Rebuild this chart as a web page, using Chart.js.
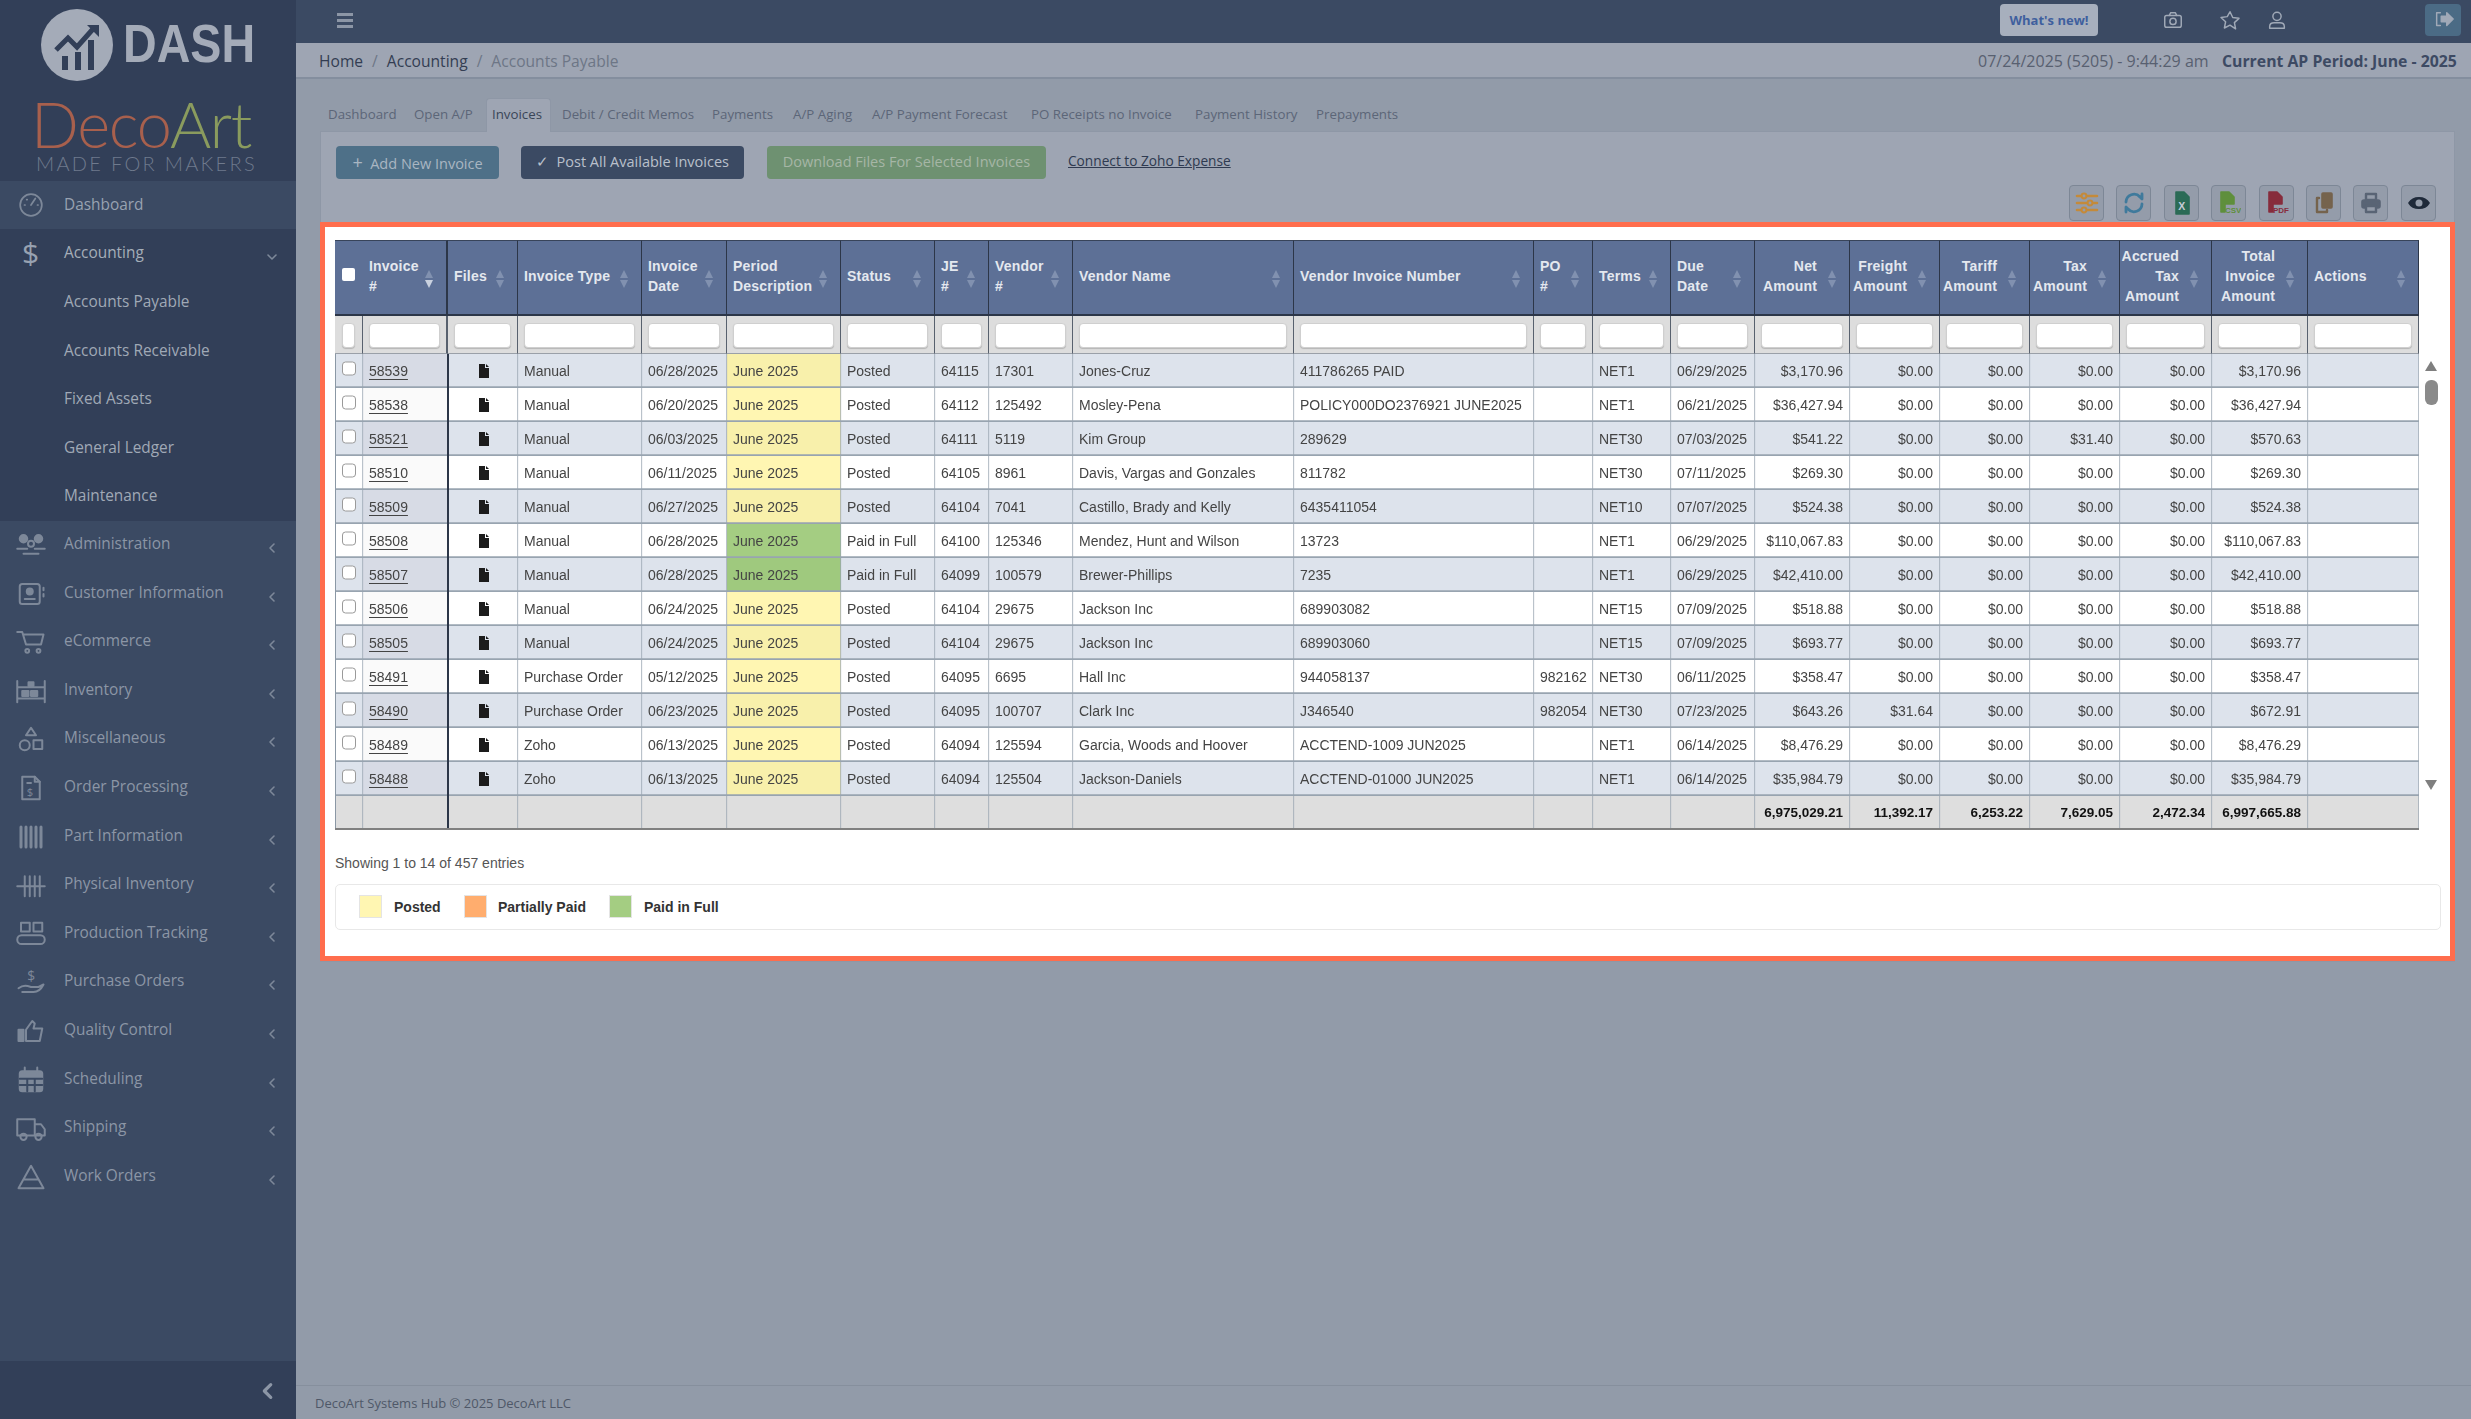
<!DOCTYPE html>
<html>
<head>
<meta charset="utf-8">
<title>Accounts Payable</title>
<script src="https://cdn.jsdelivr.net/npm/chart.js@4/dist/chart.umd.min.js"></script>
<style>
  html, body { margin: 0; padding: 0; width: 2471px; height: 1419px; overflow: hidden; background: #929ba9; font-family: "Open Sans", sans-serif; }
  .abs, .abs * { box-sizing: border-box; }
  .abs { position: absolute; white-space: nowrap; }
  .side { color: #98a2b1; font-size: 15.4px; line-height: 24px; }
  .tab { color: #5c6678; font-size: 13.3px; top: 104px; line-height: 20px; }
  .btn { top: 146px; height: 33px; border-radius: 4px; font-size: 14.5px; line-height: 32px; text-align: center; }
  .tool { top: 185px; width: 35px; height: 36px; border: 1px solid #7d8796; border-radius: 4px; background: #949caa; }
  .tool svg { position: absolute; left: 5px; top: 5px; }
  .th { top: 240px; height: 76px; background: #5d7096; border-right: 1px solid #2c3648; border-top: 1px solid #38445a; border-bottom: 2px solid #2c3648; color: #e4e8ef; font: bold 14px/20px "Liberation Sans", sans-serif; letter-spacing: .2px; display: flex; align-items: center; padding: 0 32px 3px 6px; }
  .th.num { justify-content: flex-end; text-align: right; }
  .up, .down { position: absolute; right: 13px; width: 0; height: 0; border-left: 4.5px solid transparent; border-right: 4.5px solid transparent; }
  .up { top: 29px; border-bottom: 8px solid #8191b0; }
  .down { top: 39px; border-top: 8px solid #8191b0; }
  .fl { top: 316px; height: 38px; background: #dddddd; border-right: 1px solid #58616e; border-bottom: 1px solid #9aa0a8; }
  .fl div { position: absolute; left: 6px; right: 6px; top: 7px; height: 25px; background: #fff; border: 1px solid #cfcfcf; border-radius: 4px; box-shadow: 0 1px 1px #b5b5b5; }
  .lg { top: 896px; font: bold 14px/22px "Liberation Sans", sans-serif; color: #333; }
  .sw { top: 895px; width: 23px; height: 23px; border: 1px solid #e4e4e4; }
</style>
</head>
<body>
<div id="page"></div>
<canvas id="invoiceTable" class="abs" style="left:335px;top:354px"></canvas>
<script>
// ---- table content ----
const invoiceNos = ['58539','58538','58521','58510','58509','58508','58507','58506','58505','58491','58490','58489','58488'];
const invoiceTypes = ['Manual','Manual','Manual','Manual','Manual','Manual','Manual','Manual','Manual','Purchase Order','Purchase Order','Zoho','Zoho'];
const invoiceDates = ['06/28/2025','06/20/2025','06/03/2025','06/11/2025','06/27/2025','06/28/2025','06/28/2025','06/24/2025','06/24/2025','05/12/2025','06/23/2025','06/13/2025','06/13/2025'];
const periods = ['June 2025','June 2025','June 2025','June 2025','June 2025','June 2025','June 2025','June 2025','June 2025','June 2025','June 2025','June 2025','June 2025'];
const statuses = ['Posted','Posted','Posted','Posted','Posted','Paid in Full','Paid in Full','Posted','Posted','Posted','Posted','Posted','Posted'];
const jeNos = ['64115','64112','64111','64105','64104','64100','64099','64104','64104','64095','64095','64094','64094'];
const vendorNos = ['17301','125492','5119','8961','7041','125346','100579','29675','29675','6695','100707','125594','125504'];
const vendorNames = ['Jones-Cruz','Mosley-Pena','Kim Group','Davis, Vargas and Gonzales','Castillo, Brady and Kelly','Mendez, Hunt and Wilson','Brewer-Phillips','Jackson Inc','Jackson Inc','Hall Inc','Clark Inc','Garcia, Woods and Hoover','Jackson-Daniels'];
const vendorInvoiceNos = ['411786265 PAID','POLICY000DO2376921 JUNE2025','289629','811782','6435411054','13723','7235','689903082','689903060','944058137','J346540','ACCTEND-1009 JUN2025','ACCTEND-01000 JUN2025'];
const poNos = ['','','','','','','','','','982162','982054','',''];
const terms = ['NET1','NET1','NET30','NET30','NET10','NET1','NET1','NET15','NET15','NET30','NET30','NET1','NET1'];
const dueDates = ['06/29/2025','06/21/2025','07/03/2025','07/11/2025','07/07/2025','06/29/2025','06/29/2025','07/09/2025','07/09/2025','06/11/2025','07/23/2025','06/14/2025','06/14/2025'];
const netAmounts = [3170.96,36427.94,541.22,269.30,524.38,110067.83,42410.00,518.88,693.77,358.47,643.26,8476.29,35984.79];
const freightAmounts = [0,0,0,0,0,0,0,0,0,0,31.64,0,0];
const tariffAmounts = [0,0,0,0,0,0,0,0,0,0,0,0,0];
const taxAmounts = [0,0,31.40,0,0,0,0,0,0,0,0,0,0];
const accruedTaxAmounts = [0,0,0,0,0,0,0,0,0,0,0,0,0];
const totalAmounts = [3170.96,36427.94,570.63,269.30,524.38,110067.83,42410.00,518.88,693.77,358.47,672.91,8476.29,35984.79];
const footerTotals = [6975029.21,11392.17,6253.22,7629.05,2472.34,6997665.88];

// header titles, a line feed is where the original wraps
const columnTitles = ['','Invoice\n#','Files','Invoice Type','Invoice\nDate','Period\nDescription','Status','JE\n#','Vendor\n#','Vendor Name','Vendor Invoice Number','PO\n#','Terms','Due\nDate','Net\nAmount','Freight\nAmount','Tariff\nAmount','Tax\nAmount','Accrued\nTax\nAmount','Total\nInvoice\nAmount','Actions'];
const numericColumns = [14,15,16,17,18,19];
const legendLabels = ['Posted','Partially Paid','Paid in Full'];
const legendColors = ['#fff6b2','#ffad6e','#a4cd82'];

// column edges on the x axis (page pixels), layout only
const columnEdges = [335,363,448,518,642,727,841,935,989,1073,1294,1534,1593,1671,1755,1850,1940,2030,2120,2212,2308,2419];

const money = v => '$' + v.toLocaleString('en-US', { minimumFractionDigits: 2, maximumFractionDigits: 2 });
const plain = v => v.toLocaleString('en-US', { minimumFractionDigits: 2, maximumFractionDigits: 2 });

const columnText = {
    1: invoiceNos, 3: invoiceTypes, 4: invoiceDates, 5: periods, 6: statuses, 7: jeNos, 8: vendorNos,
    9: vendorNames, 10: vendorInvoiceNos, 11: poNos, 12: terms, 13: dueDates,
    14: netAmounts.map(money), 15: freightAmounts.map(money), 16: tariffAmounts.map(money),
    17: taxAmounts.map(money), 18: accruedTaxAmounts.map(money), 19: totalAmounts.map(money)
};

// ---- page chrome ----
const ic = (body, size = 26, color = '#7d8899', box = 24) =>
    `<svg width="${size}" height="${size}" viewBox="0 0 ${box} ${box}" fill="none" stroke="${color}" stroke-width="1.6" stroke-linecap="round" stroke-linejoin="round">${body}</svg>`;

const sideIcons = {
    Administration: '<circle cx="6" cy="7" r="3" fill="#7d8899"/><circle cx="18" cy="7" r="3" fill="#7d8899"/><circle cx="12" cy="11" r="2.4"/><path d="M1 15h8M15 15h8M6 19h12"/>',
    'Customer Information': '<rect x="3" y="4" width="16" height="16" rx="2"/><circle cx="11" cy="10" r="2.4" fill="#7d8899"/><path d="M7 16h8M22 7v2M22 12v2"/>',
    eCommerce: '<path d="M1 4h4l3 10h12l2-8H6"/><circle cx="9" cy="19" r="1.5"/><circle cx="18" cy="19" r="1.5"/>',
    Inventory: '<path d="M1 4v17M23 4v17M1 18h22M1 9h22"/><rect x="5" y="12" width="5" height="4" fill="#7d8899"/><rect x="12" y="12" width="5" height="4" fill="#7d8899"/><rect x="10" y="5" width="4" height="3" fill="#7d8899"/>',
    Miscellaneous: '<path d="M12 3l4 6H8z"/><circle cx="7" cy="17" r="4"/><rect x="14" y="13" width="7" height="7"/>',
    'Order Processing': '<path d="M5 3h10l4 4v14H5z"/><path d="M15 3v4h4M9 8h3"/><text x="8.5" y="18" font-size="9" fill="#7d8899" stroke="none">$</text>',
    'Part Information': '<path d="M4 4v16M8 4v16M12 4v16M16 4v16M20 4v16" stroke-width="2.4"/>',
    'Physical Inventory': '<path d="M1 13h22M7 5v16M11 5v16M15 5v16M19 5v16"/>',
    'Production Tracking': '<rect x="4" y="3" width="7" height="7"/><rect x="14" y="3" width="7" height="7"/><rect x="1" y="13" width="22" height="7" rx="3.5"/>',
    'Purchase Orders': '<path d="M2 17c4-3 7-2 10-1h6l4-2c-2 4-5 6-8 6H5"/><text x="9" y="11" font-size="11" fill="#7d8899" stroke="none">$</text>',
    'Quality Control': '<rect x="2" y="11" width="4" height="9" fill="#7d8899"/><path d="M8 11l5-7 2 2-1 4h7l-2 10H8z"/>',
    Scheduling: '<rect x="3" y="5" width="18" height="16" rx="2" fill="#7d8899"/><path d="M7 2v5M17 2v5"/><path d="M3 11h18M3 16h18M9 11v10M15 11v10" stroke="#3b4a63"/>',
    Shipping: '<path d="M1 5h14v13H1zM15 9h5l3 4v5h-8"/><circle cx="6" cy="19" r="2.5"/><circle cx="18" cy="19" r="2.5"/>',
    'Work Orders': '<path d="M12 3L2 21h20zM7 14h10"/>'
};
const sideRows = Object.keys(sideIcons);

const subItems = [['Accounts Payable', 302], ['Accounts Receivable', 351], ['Fixed Assets', 399], ['General Ledger', 448], ['Maintenance', 496]];
const tabs = [['Dashboard', 328], ['Open A/P', 414], ['Invoices', 492], ['Debit / Credit Memos', 562], ['Payments', 712], ['A/P Aging', 793], ['A/P Payment Forecast', 872], ['PO Receipts no Invoice', 1031], ['Payment History', 1195], ['Prepayments', 1316]];

let html = `
<div class="abs" style="left:0;top:0;width:296px;height:1419px;background:#3b4a63"></div>
<div class="abs" style="left:0;top:0;width:296px;height:181px;background:#323f58"></div>
<div class="abs" style="left:0;top:229px;width:296px;height:292px;background:#323f58"></div>
<div class="abs" style="left:0;top:1361px;width:296px;height:58px;background:#323f58"></div>

<svg class="abs" style="left:40px;top:8px" width="74" height="74" viewBox="0 0 74 74">
  <circle cx="37" cy="37" r="36" fill="#a4abb8"/>
  <path d="M16 42l12-12 9 9 16-18" fill="none" stroke="#323f58" stroke-width="5"/><path d="M47 17h12v12z" fill="#323f58"/>
  <rect x="22" y="48" width="6" height="14" fill="#323f58"/><rect x="35" y="44" width="6" height="18" fill="#323f58"/><rect x="48" y="32" width="6" height="30" fill="#323f58"/>
</svg>
<div class="abs" style="left:123px;top:13px;font:bold 53px/62px 'Liberation Sans';transform:scaleX(.88);transform-origin:left;color:#a4abb8">DASH</div>
<div class="abs" style="left:31px;top:88px;font:300 63px/72px Lato,'Open Sans';letter-spacing:-1.2px;color:#a8604d">Deco<span style="color:#8a9b5e">Art</span></div>
<div class="abs" style="left:36px;top:150px;font:300 20px/26px Lato,'Open Sans';letter-spacing:2.3px;color:#6f7a8d">MADE FOR MAKERS</div>

<div class="abs side" style="left:64px;top:193px">Dashboard</div>
<div class="abs" style="left:18px;top:192px">${ic('<circle cx="12" cy="12" r="10"/><path d="M12 12l4-6M6 12h.5M18 12h.5M8 7h.5"/>')}</div>
<div class="abs side" style="left:64px;top:241px;color:#a5aeb9">Accounting</div>
<div class="abs" style="left:22px;top:235px;font:30px/36px 'Open Sans';color:#98a2b1">$</div>
<div class="abs" style="left:266px;top:246px">${ic('<path d="M2 4l4 4 4-4"/>', 12, '#7d8899', 12)}</div>

<div class="abs" style="left:296px;top:0;width:2175px;height:43px;background:#3b4a63"></div>
<div class="abs" style="left:337px;top:13px;width:16px;height:15px;border-top:3px solid #8c96a6;border-bottom:3px solid #8c96a6"></div>
<div class="abs" style="left:337px;top:19px;width:16px;height:3px;background:#8c96a6"></div>
<div class="abs" style="left:2000px;top:4px;width:98px;height:32px;border-radius:4px;background:#a7afbd;color:#3f5f9e;font:bold 13px/33px 'Open Sans';text-align:center">What's new!</div>
<div class="abs" style="left:2162px;top:9px">${ic('<rect x="3" y="7" width="18" height="13" rx="2"/><circle cx="12" cy="13.5" r="3.4"/><path d="M8 7l1.5-3h5L16 7"/>', 22, '#a0a9b7')}</div>
<div class="abs" style="left:2219px;top:9px">${ic('<path d="M12 3l3 6.3 6.8.9-5 4.7 1.3 6.8L12 17.6 5.900 20.700l1.300-6.800-5-4.700 6.800-.9z"/>', 22, '#a0a9b7')}</div>
<div class="abs" style="left:2266px;top:9px">${ic('<circle cx="12" cy="8" r="4.500"/><path d="M4 21v-2c0-3 2-4 5-4h6c3 0 5 1 5 4v2z"/>', 22, '#a0a9b7')}</div>
<div class="abs" style="left:2425px;top:4px;width:36px;height:32px;border-radius:4px;background:#4b6b85"></div>
<div class="abs" style="left:2433px;top:9px">${ic('<path d="M8 4H4v14h4"/><path d="M9 8h6V4l7 7-7 7v-4H9z" fill="#a0a9b7"/>', 22, '#a0a9b7')}</div>

<div class="abs" style="left:296px;top:43px;width:2175px;height:36px;background:#9ea5b3;border-bottom:2px solid #848e9e"></div>
<div class="abs" style="left:319px;top:49px;font-size:15.6px;line-height:24px;color:#333d52">Home<span style="color:#6d7686;margin:0 9px">/</span>Accounting<span style="color:#6d7686;margin:0 9px">/</span><span style="color:#6d7686">Accounts Payable</span></div>
<div class="abs" style="left:1978px;top:49px;font-size:16px;line-height:24px;color:#586070">07/24/2025 (5205) - 9:44:29 am</div>
<div class="abs" style="left:2222px;top:49px;font-size:15.8px;font-weight:700;line-height:24px;color:#3d4a63">Current AP Period: June - 2025</div>

<div class="abs" style="left:320px;top:131px;width:2135px;height:831px;background:#9ea5b3;border:1px solid #8e97a6"></div>
<div class="abs" style="left:486px;top:98px;width:65px;height:34px;background:#9ea5b3;border:1px solid #8e97a6;border-bottom:none;border-radius:4px 4px 0 0"></div>

<div class="abs btn" style="left:336px;width:163px;background:#4e7088;color:#a9b6c2"><span style="font-size:18px">+</span>&nbsp; Add New Invoice</div>
<div class="abs btn" style="left:521px;width:223px;background:#3b4a63;color:#b9c0cb">&#10003;&nbsp; Post All Available Invoices</div>
<div class="abs btn" style="left:767px;width:279px;background:#6e9171;color:#a6b6a6">Download Files For Selected Invoices</div>
<div class="abs" style="left:1068px;top:151px;font-size:13.7px;line-height:20px;color:#2f3a50;text-decoration:underline">Connect to Zoho Expense</div>
`;

sideRows.forEach((name, i) => {
    const y = 544 + i * 48.6;
    html += `<div class="abs side" style="left:64px;top:${y - 12}px;color:#8c96a6">${name}</div>`;
    html += `<div class="abs" style="left:16px;top:${y - 14}px">${ic(sideIcons[name], 30)}</div>`;
    html += `<div class="abs" style="left:266px;top:${y - 7}px">${ic('<path d="M8 2L4 6l4 4"/>', 12, '#7d8899', 12)}</div>`;
});
subItems.forEach(([name, y]) => {
    html += `<div class="abs side" style="left:64px;top:${y - 12}px;color:#a0a9b6">${name}</div>`;
});
html += `<div class="abs" style="left:257px;top:1380px">${ic('<path d="M15 5l-7 7 7 7" stroke-width="3.5"/>', 22, '#8c96a6')}</div>`;

tabs.forEach(([name, x]) => {
    const active = name === 'Invoices';
    html += `<div class="abs tab" style="left:${x}px;${active ? 'color:#3a4558' : ''}">${name}</div>`;
});

// export / tool buttons
const toolIcons = [
    ['<path d="M2 5h20M2 12h20M2 19h20" stroke-width="2.6"/><circle cx="9" cy="5" r="2.4" fill="#949caa" stroke-width="2"/><circle cx="15" cy="12" r="2.4" fill="#949caa" stroke-width="2"/><circle cx="9" cy="19" r="2.4" fill="#949caa" stroke-width="2"/>', '#c48a3a'],
    ['<path d="M4 11a8 8 0 0 1 14-5l2 2V3M20 13a8 8 0 0 1-14 5l-2-2v5" stroke-width="2.8"/>', '#3f7a9c'],
    ['<path d="M6 1h8l5 5v17H6z" fill="#2b6b56"/><text x="8.300" y="19" font-size="10.500" font-weight="700" fill="#c5ccd6" stroke="none" font-family="Liberation Sans">X</text>', '#2b6b56'],
    ['<path d="M4 1h8l5 5v7H8v8H4z" fill="#5f8f3c"/><text x="8" y="21.500" font-size="8" font-weight="700" fill="#5f8f3c" stroke="none" font-family="Liberation Sans">CSV</text>', '#5f8f3c'],
    ['<path d="M4 1h8l5 5v7H8v8H4z" fill="#872c3c"/><text x="8" y="21.500" font-size="8" font-weight="700" fill="#872c3c" stroke="none" font-family="Liberation Sans">PDF</text>', '#872c3c'],
    ['<rect x="10" y="2" width="10" height="15" rx="1" fill="#75634d"/><path d="M7 7H5v14h10v-2" stroke-width="2.400"/>', '#75634d'],
    ['<rect x="7" y="3" width="10" height="6" stroke-width="2.400"/><rect x="3" y="9" width="18" height="8" rx="2" fill="#596475"/><rect x="7" y="15" width="10" height="6" fill="#949caa" stroke-width="2.400"/>', '#596475'],
    ['<path d="M2 12c4-7 16-7 20 0-4 7-16 7-20 0z" fill="#1f2a3a"/><circle cx="12" cy="12" r="3.500" fill="#949caa" stroke="none"/>', '#1f2a3a']
];
toolIcons.forEach(([body, color], i) => {
    html += `<div class="abs tool" style="left:${2069 + i * 47.4}px">${ic(body, 24, color)}</div>`;
});

// the highlighted box around the table
html += `<div class="abs" style="left:320px;top:222px;width:2135px;height:739px;background:#fff;border:5px solid #ff6d4d"></div>`;

// header and filter rows
columnTitles.forEach((title, c) => {
    const left = columnEdges[c], width = columnEdges[c + 1] - left;
    const numeric = numericColumns.includes(c);
    const thick = c === 1 ? 'border-right-width:2px;' : '';
    const sort = c === 0 ? '' : `<i class="up"></i><i class="down"${c === 1 ? ' style="border-top-color:#c9d1df"' : ''}></i>`;
    html += `<div class="abs th${numeric ? ' num' : ''}" style="left:${left}px;width:${width}px;${thick}"><span>${title.replace(/\n/g, '<br>')}</span>${sort}</div>`;
    html += `<div class="abs fl" style="left:${left}px;width:${width}px;${thick}"><div${c === 0 ? ' style="left:7px;right:7px"' : ''}></div></div>`;
});
html += `<div class="abs" style="left:342px;top:268px;width:13px;height:13px;background:#fff;border-radius:2px"></div>`;

// scrollbar
html += `<div class="abs" style="left:2425px;top:361px;width:0;height:0;border-left:6.500px solid transparent;border-right:6.500px solid transparent;border-bottom:10px solid #7f7f7f"></div>`;
html += `<div class="abs" style="left:2425px;top:380px;width:13px;height:25px;border-radius:6px;background:#8a8a8a"></div>`;
html += `<div class="abs" style="left:2425px;top:780px;width:0;height:0;border-left:6.500px solid transparent;border-right:6.500px solid transparent;border-top:10px solid #7f7f7f"></div>`;

// footer text and legend
html += `<div class="abs" style="left:335px;top:853px;font:14px/20px 'Liberation Sans',sans-serif;color:#555">Showing 1 to 14 of 457 entries</div>`;
html += `<div class="abs" style="left:335px;top:884px;width:2106px;height:46px;border:1px solid #e8e8e8;border-radius:5px"></div>`;
[359, 464, 609].forEach((x, i) => { html += `<div class="abs sw" style="left:${x}px;background:${legendColors[i]}"></div>`; });
[394, 498, 644].forEach((x, i) => { html += `<div class="abs lg" style="left:${x}px">${legendLabels[i]}</div>`; });

html += `<div class="abs" style="left:296px;top:1385px;width:2175px;height:1px;background:#868f9d"></div>`;
html += `<div class="abs" style="left:315px;top:1394px;font-size:13px;line-height:18px;color:#4f5868">DecoArt Systems Hub &copy; 2025 DecoArt LLC</div>`;

document.getElementById('page').innerHTML = html;

// ---- the table body is the chart: one floating bar per cell ----
const rowLabels = [...invoiceNos, 'Totals'];
const lastRow = rowLabels.length - 1;

function cellColor(column, row) {
    if (row === lastRow) return '#dedede';
    const shaded = row % 2 === 0;
    if (column === 5) {
        if (statuses[row] === 'Paid in Full') return shaded ? '#9fc97e' : '#a4cd82';
        return shaded ? '#f8f0ab' : '#fff6b2';
    }
    if (column === 1) return shaded ? '#d7dbe5' : '#fafafa';
    return shaded ? '#dde3ec' : '#ffffff';
}

const cellDatasets = columnTitles.map((title, c) => ({
    label: title || 'Select',
    data: rowLabels.map(() => [columnEdges[c], columnEdges[c + 1]]),
    backgroundColor: rowLabels.map((_, r) => cellColor(c, r)),
    borderColor: '#98a4b0',
    borderWidth: { right: 1, bottom: 2 },
    borderSkipped: false,
    barPercentage: 1,
    categoryPercentage: 1,
    grouped: false
}));

function drawFileIcon(ctx, cx, cy) {
    ctx.fillStyle = '#1c1c1c';
    ctx.beginPath();
    ctx.moveTo(cx - 5, cy - 7);
    ctx.lineTo(cx + 1, cy - 7);
    ctx.lineTo(cx + 1, cy - 3);
    ctx.lineTo(cx + 5, cy - 3);
    ctx.lineTo(cx + 5, cy + 7);
    ctx.lineTo(cx - 5, cy + 7);
    ctx.closePath();
    ctx.fill();
    ctx.beginPath();
    ctx.moveTo(cx + 2, cy - 7);
    ctx.lineTo(cx + 5, cy - 4);
    ctx.lineTo(cx + 2, cy - 4);
    ctx.closePath();
    ctx.fill();
}

const cellText = {
    id: 'cellText',
    afterDatasetsDraw(chart) {
        const ctx = chart.ctx;
        ctx.save();
        ctx.textBaseline = 'middle';

        rowLabels.forEach((label, r) => {
            cellDatasets.forEach((ds, c) => {
                const bar = chart.getDatasetMeta(c).data[r];
                const left = bar.base, right = bar.x, y = bar.y + 1;

                if (r === lastRow) {
                    const t = numericColumns.indexOf(c);
                    if (t < 0) return;
                    ctx.font = 'bold 13.5px "Liberation Sans"';
                    ctx.fillStyle = '#111';
                    ctx.textAlign = 'right';
                    ctx.fillText(plain(footerTotals[t]), right - 7, y - 1);
                    return;
                }
                if (c === 0) {
                    ctx.fillStyle = '#fff';
                    ctx.strokeStyle = '#9a9a9a';
                    ctx.lineWidth = 1;
                    ctx.beginPath();
                    ctx.roundRect(left + 7.5, y - 10, 13, 13, 3);
                    ctx.fill();
                    ctx.stroke();
                    return;
                }
                if (c === 2) {
                    drawFileIcon(ctx, (left + right) / 2 + 1, y - 1);
                    return;
                }
                const text = (columnText[c] || [])[r];
                if (!text) return;
                ctx.font = '14px "Liberation Sans"';
                ctx.fillStyle = '#444';
                if (numericColumns.includes(c)) {
                    ctx.textAlign = 'right';
                    ctx.fillText(text, right - 7, y);
                } else {
                    ctx.textAlign = 'left';
                    ctx.fillText(text, left + 6, y);
                }
                if (c === 1) {
                    const w = ctx.measureText(text).width;
                    ctx.fillStyle = '#444';
                    ctx.fillRect(left + 6, y + 7, w, 1);
                }
            });
        });

        // dark rule right of the invoice column, left edge and bottom edge of the table
        const top = chart.chartArea.top, bottom = chart.chartArea.bottom;
        const xs = chart.scales.x;
        ctx.fillStyle = '#2c3648';
        ctx.fillRect(xs.getPixelForValue(columnEdges[2]) - 1, top, 2, bottom - top);
        ctx.fillStyle = '#8b98a5';
        ctx.fillRect(0, top, 1, bottom - top);
        ctx.fillStyle = '#808080';
        ctx.fillRect(0, bottom - 2, chart.width, 2);
        ctx.restore();
    }
};

const canvas = document.getElementById('invoiceTable');
canvas.width = columnEdges[columnEdges.length - 1] - columnEdges[0];
canvas.height = 476;

new Chart(canvas, {
    type: 'bar',
    data: { labels: rowLabels, datasets: cellDatasets },
    options: {
        indexAxis: 'y',
        responsive: false,
        devicePixelRatio: 1,
        animation: false,
        events: [],
        layout: { padding: 0 },
        scales: {
            x: { type: 'linear', min: columnEdges[0], max: columnEdges[columnEdges.length - 1], display: false },
            y: { type: 'category', display: false }
        },
        plugins: { legend: { display: false }, tooltip: { enabled: false } }
    },
    plugins: [cellText]
});
</script>
</body>
</html>
